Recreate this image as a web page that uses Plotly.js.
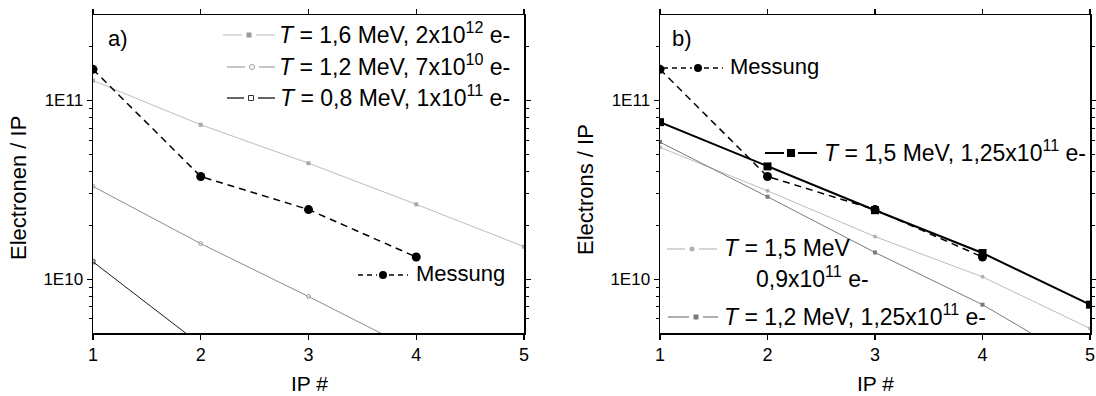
<!DOCTYPE html>
<html><head><meta charset="utf-8">
<script src="https://cdn.plot.ly/plotly-3.0.1.min.js"></script>
<style>html,body{margin:0;padding:0;background:#fff}</style>
</head><body><div id="chart" style="width:1096px;height:396px"></div>
<script>
// ---- data ----
const ip = [1, 2, 3, 4, 5];
const ipMess = [1, 2, 3, 4];
const messung = [1.49e11, 3.75e10, 2.45e10, 1.33e10];
const simA16 = [1.29e11, 7.3e10, 4.45e10, 2.62e10, 1.52e10];   // T=1,6 MeV, 2x10^12 e-
const simA12 = [3.3e10, 1.58e10, 8.0e9, 4.0e9, 1.96e9];        // T=1,2 MeV, 7x10^10 e-
const simA08 = [1.25e10, 4.3e9, 1.5e9, 5.2e8, 1.8e8];          // T=0,8 MeV, 1x10^11 e-
const simB15a = [7.55e10, 4.27e10, 2.43e10, 1.40e10, 7.2e9];   // T=1,5 MeV, 1,25x10^11 e-
const simB15b = [5.46e10, 3.12e10, 1.73e10, 1.03e10, 5.3e9];   // T=1,5 MeV, 0,9x10^11 e-
const simB12 = [5.84e10, 2.89e10, 1.41e10, 7.2e9, 3.2e9];      // T=1,2 MeV, 1,25x10^11 e-
const xTicks = [1, 2, 3, 4, 5];
const yTickVals = [1e10, 1e11];
const yTickText = ['1E10', '1E11'];
const yMinor = [6e9, 7e9, 8e9, 9e9, 2e10, 3e10, 4e10, 5e10, 6e10, 7e10, 8e10, 9e10, 2e11];
const labelsA = ['<i>T</i> = 1,6 MeV, 2x10<sup>12</sup> e-', '<i>T</i> = 1,2 MeV, 7x10<sup>10</sup> e-', '<i>T</i> = 0,8 MeV, 1x10<sup>11</sup> e-'];
const labelsB = ['<i>T</i> = 1,5 MeV, 1,25x10<sup>11</sup> e-', '<i>T</i> = 1,5 MeV', '0,9x10<sup>11</sup> e-', '<i>T</i> = 1,2 MeV, 1,25x10<sup>11</sup> e-'];
const messLabel = 'Messung';

// ---- geometry ----
const FW = 1096, FH = 396;
const M = {l: 93, r: 6, t: 15, b: 63};
const PW = FW - M.l - M.r, PH = FH - M.t - M.b;
const px = v => (v - M.l) / PW;
const py = v => 1 - (v - M.t) / PH;
const FONT = 'Liberation Sans, Arial, sans-serif';

const cLight = '#bdbdbd', cMid = '#8c8c8c', cDark = '#1a1a1a';

const traces = [
  {x: ip, y: simA16, xaxis: 'x', yaxis: 'y', mode: 'lines+markers', line: {color: cLight, width: 1},
   marker: {symbol: 'square', size: 4, color: '#a8a8a8'}},
  {x: ip, y: simA12, xaxis: 'x', yaxis: 'y', mode: 'lines+markers', line: {color: cMid, width: 1},
   marker: {symbol: 'circle-open', size: 4, color: '#a0a0a0', line: {width: 1}}},
  {x: ip, y: simA08, xaxis: 'x', yaxis: 'y', mode: 'lines+markers', line: {color: cDark, width: 1},
   marker: {symbol: 'square-open', size: 4, color: '#333', line: {width: 1}}},
  {x: ipMess, y: messung, xaxis: 'x', yaxis: 'y', mode: 'lines+markers', line: {color: '#000', width: 1.5, dash: '7px,5px'},
   marker: {symbol: 'circle', size: 9, color: '#000'}},
  {x: ip, y: simB15b, xaxis: 'x2', yaxis: 'y2', mode: 'lines+markers', line: {color: cLight, width: 1},
   marker: {symbol: 'circle', size: 4, color: '#b0b0b0'}},
  {x: ip, y: simB12, xaxis: 'x2', yaxis: 'y2', mode: 'lines+markers', line: {color: '#7a7a7a', width: 1},
   marker: {symbol: 'square', size: 4, color: '#7a7a7a'}},
  {x: ipMess, y: messung, xaxis: 'x2', yaxis: 'y2', mode: 'lines+markers', line: {color: '#000', width: 1.5, dash: '7px,5px'},
   marker: {symbol: 'circle', size: 9, color: '#000'}},
  {x: ip, y: simB15a, xaxis: 'x2', yaxis: 'y2', mode: 'lines+markers', line: {color: '#000', width: 2},
   marker: {symbol: 'square', size: 8, color: '#000'}}
];

function xax(domain, anchor) {
  return {domain: domain, anchor: anchor, range: [1, 5], tickmode: 'array', tickvals: xTicks,
    ticks: 'outside', ticklen: 5, tickwidth: 1.2, tickcolor: '#000', showline: true, linecolor: '#000', linewidth: 1.5,
    mirror: 'allticks', showgrid: false, zeroline: false, tickfont: {family: FONT, size: 18, color: '#000'}};
}
function yax(anchor) {
  return {domain: [0, 1], anchor: anchor, type: 'log', range: [Math.log10(5e9), Math.log10(3e11)],
    tickmode: 'array', tickvals: yTickVals, ticktext: yTickText,
    ticks: 'outside', ticklen: 5, tickwidth: 1.2, tickcolor: '#000', showline: true, linecolor: '#000', linewidth: 1.5,
    mirror: 'allticks', showgrid: false, zeroline: false, tickfont: {family: FONT, size: 17, color: '#000'},
    minor: {tickmode: 'array', tickvals: yMinor, ticks: 'outside', ticklen: 3, tickwidth: 1, tickcolor: '#000', showgrid: false}};
}

const shapes = [];
function sample(o) {
  const g = o.gap;
  shapes.push({type: 'line', xref: 'paper', yref: 'paper', x0: px(o.x0), x1: px(o.xm - g), y0: py(o.y), y1: py(o.y),
    line: {color: o.color, width: o.width, dash: o.dash || 'solid'}});
  shapes.push({type: 'line', xref: 'paper', yref: 'paper', x0: px(o.xm + g), x1: px(o.x1), y0: py(o.y), y1: py(o.y),
    line: {color: o.color, width: o.width, dash: o.dash || 'solid'}});
  const s = o.ms / 2;
  shapes.push({type: o.sym === 'square' ? 'rect' : 'circle', xref: 'paper', yref: 'paper',
    x0: px(o.xm - s), x1: px(o.xm + s), y0: py(o.y + s), y1: py(o.y - s),
    fillcolor: o.open ? '#fff' : o.mcolor, line: {color: o.mcolor, width: o.open ? 1 : 0}});
}
// left legend
sample({x0: 223, x1: 275, xm: 249, y: 35, gap: 7, color: cLight, width: 1, sym: 'square', ms: 5, mcolor: '#999'});
sample({x0: 227, x1: 275, xm: 252, y: 67, gap: 7, color: cMid, width: 1, sym: 'circle', ms: 5, mcolor: '#999', open: true});
sample({x0: 227, x1: 275, xm: 251, y: 98, gap: 7, color: '#666', width: 2, sym: 'square', ms: 5, mcolor: '#333', open: true});
sample({x0: 358, x1: 408, xm: 383, y: 275, gap: 6, color: '#000', width: 1.5, dash: '5px,4px', sym: 'circle', ms: 8, mcolor: '#000'});
// right legend
sample({x0: 663, x1: 723, xm: 698, y: 68, gap: 6, color: '#000', width: 1.5, dash: '5px,4px', sym: 'circle', ms: 8, mcolor: '#000'});
sample({x0: 765, x1: 817, xm: 791, y: 153, gap: 7, color: '#000', width: 2, sym: 'square', ms: 8, mcolor: '#000'});
sample({x0: 667, x1: 717, xm: 692, y: 249, gap: 7, color: cLight, width: 1.2, sym: 'circle', ms: 5, mcolor: '#b0b0b0'});
sample({x0: 668, x1: 718, xm: 696, y: 317, gap: 7, color: '#7a7a7a', width: 1.2, sym: 'square', ms: 5, mcolor: '#7a7a7a'});

const ann = [];
function txt(t, x, y, opts) {
  ann.push(Object.assign({text: t, xref: 'paper', yref: 'paper', x: px(x), y: py(y), showarrow: false,
    xanchor: 'left', yanchor: 'middle', font: {family: FONT, size: 23, color: '#000'}}, opts || {}));
}
txt(labelsA[0], 512, 33, {xanchor: 'right'});
txt(labelsA[1], 512, 65, {xanchor: 'right'});
txt(labelsA[2], 512, 96, {xanchor: 'right'});
txt(messLabel, 414, 273, {font: {family: FONT, size: 22, color: '#000'}});
txt(messLabel, 728, 67, {font: {family: FONT, size: 22, color: '#000'}});
txt(labelsB[0], 822, 151);
txt(labelsB[1], 722, 248);
txt(labelsB[2], 754, 277);
txt(labelsB[3], 722, 315);
txt('a)', 106, 38, {font: {family: FONT, size: 22, color: '#000'}});
txt('b)', 670, 38, {font: {family: FONT, size: 22, color: '#000'}});
// axis titles
txt('IP #', 309, 383, {xanchor: 'center', font: {family: FONT, size: 21, color: '#000'}});
txt('IP #', 875, 383, {xanchor: 'center', font: {family: FONT, size: 21, color: '#000'}});
txt('Electronen / IP', 18, 188, {xanchor: 'center', textangle: -90, font: {family: FONT, size: 22, color: '#000'}});
txt('Electrons / IP', 585, 190, {xanchor: 'center', textangle: -90, font: {family: FONT, size: 22, color: '#000'}});

const layout = {
  width: FW, height: FH, margin: M, paper_bgcolor: '#fff', plot_bgcolor: '#fff', showlegend: false,
  font: {family: FONT, color: '#000'},
  xaxis: xax([0, px(524)], 'y'), yaxis: yax('x'),
  xaxis2: xax([px(660), 1], 'y2'), yaxis2: yax('x2'),
  shapes: shapes, annotations: ann
};
Plotly.newPlot('chart', traces, layout, {staticPlot: true});
</script></body></html>
